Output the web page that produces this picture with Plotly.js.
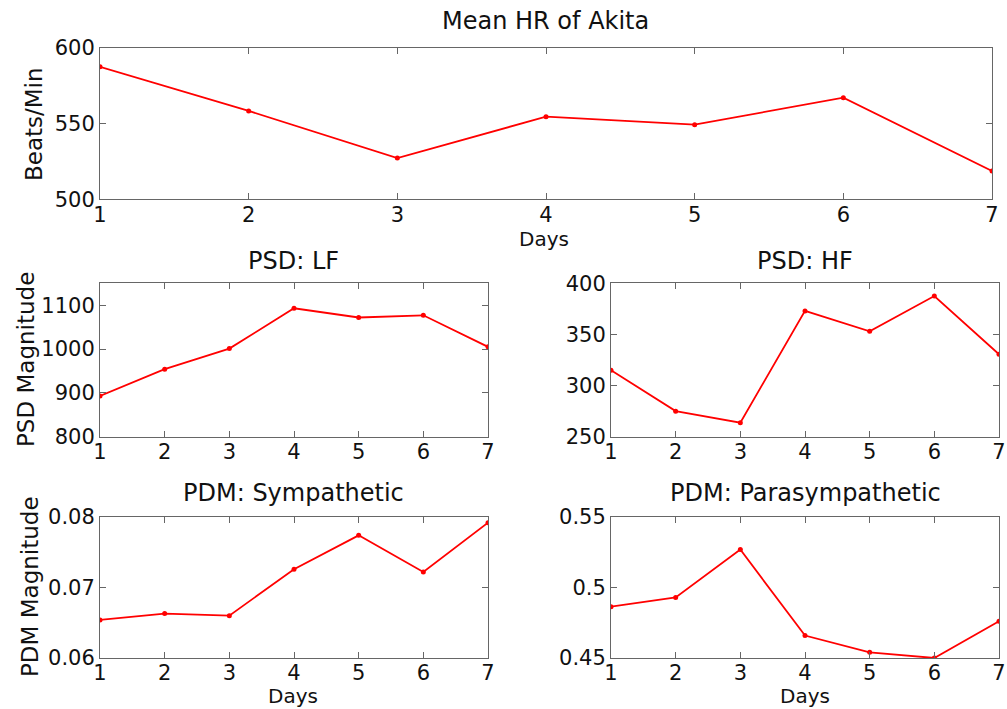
<!DOCTYPE html>
<html>
<head>
<meta charset="utf-8">
<script src="https://cdn.plot.ly/plotly-3.0.1.min.js"></script>
<style>html,body{margin:0;padding:0;background:#fff;}#chart{width:1007px;height:709px;}</style>
</head>
<body>
<div id="chart"></div>
<script>
// ---- data ----
const days = [1, 2, 3, 4, 5, 6, 7];
const meanHR = [587.6, 558.4, 527.3, 554.6, 549.3, 567.2, 518.7];
const psdLF = [893, 954, 1001, 1093, 1072, 1077, 1005];
const psdHF = [315, 275, 263.7, 373, 353, 387.6, 330.6];
const pdmSym = [0.0654, 0.0663, 0.0660, 0.0726, 0.0774, 0.0722, 0.0792];
const pdmPara = [0.4864, 0.4929, 0.5269, 0.4659, 0.454, 0.450, 0.476];

const dayTicks = ["1", "2", "3", "4", "5", "6", "7"];
const hrTickVals = [500, 550, 600];
const hrTickText = ["500", "550", "600"];
const lfTickVals = [800, 900, 1000, 1100];
const lfTickText = ["800", "900", "1000", "1100"];
const hfTickVals = [250, 300, 350, 400];
const hfTickText = ["250", "300", "350", "400"];
const symTickVals = [0.06, 0.07, 0.08];
const symTickText = ["0.06", "0.07", "0.08"];
const paraTickVals = [0.45, 0.5, 0.55];
const paraTickText = ["0.45", "0.5", "0.55"];

const titles = ["Mean HR of Akita", "PSD: LF", "PSD: HF", "PDM: Sympathetic", "PDM: Parasympathetic"];
const yTitles = ["Beats/Min", "PSD Magnitude", "PDM Magnitude"];
const xTitle = "Days";

// ---- styling ----
const W = 1007, H = 709;
const FONT = "DejaVu Sans, Arial, sans-serif";
const px = v => v / W;
const py = v => 1 - v / H;

function trace(y, xa, ya) {
  return {
    x: days, y: y, xaxis: xa, yaxis: ya, type: "scatter", mode: "lines+markers",
    line: {color: "#ff0000", width: 1.8},
    marker: {color: "#ff0000", size: 5},
    showlegend: false, hoverinfo: "x+y"
  };
}

function xax(l, r, anchor) {
  return {
    domain: [px(l), px(r)], anchor: anchor, range: [1, 7],
    tickvals: days, ticktext: dayTicks,
    ticks: "inside", ticklen: 6, tickcolor: "#666", tickwidth: 1,
    showline: true, linecolor: "#666", linewidth: 1, mirror: "ticks",
    showgrid: false, zeroline: false, ticklabelstandoff: -4,
    tickfont: {family: FONT, size: 21, color: "#111"}, fixedrange: true
  };
}
function yax(t, b, anchor, range, vals, text) {
  return {
    domain: [py(b), py(t)], anchor: anchor, range: range,
    tickvals: vals, ticktext: text,
    ticks: "inside", ticklen: 6, tickcolor: "#666", tickwidth: 1,
    showline: true, linecolor: "#666", linewidth: 1, mirror: "ticks",
    showgrid: false, zeroline: false, ticklabelstandoff: 0,
    tickfont: {family: FONT, size: 21, color: "#111"}, fixedrange: true
  };
}

const data = [
  trace(meanHR, "x", "y"),
  trace(psdLF, "x2", "y2"),
  trace(psdHF, "x3", "y3"),
  trace(pdmSym, "x4", "y4"),
  trace(pdmPara, "x5", "y5")
];

function ann(text, x, y, size, rot) {
  return {text: text, xref: "paper", yref: "paper", x: px(x), y: py(y),
    xanchor: "center", yanchor: "middle", showarrow: false, textangle: rot || 0,
    font: {family: FONT, size: size, color: "#111"}};
}

const layout = {
  width: W, height: H, margin: {l: 0, r: 0, t: 0, b: 0},
  paper_bgcolor: "#fff", plot_bgcolor: "#fff", showlegend: false,
  xaxis: xax(100, 992, "y"),
  yaxis: yax(48, 199.3, "x", [500, 600], hrTickVals, hrTickText),
  xaxis2: xax(100, 488, "y2"),
  yaxis2: yax(283.3, 436.7, "x2", [800, 1150], lfTickVals, lfTickText),
  xaxis3: xax(611, 999, "y3"),
  yaxis3: yax(283.3, 436.7, "x3", [250, 400], hfTickVals, hfTickText),
  xaxis4: xax(100, 488, "y4"),
  yaxis4: yax(517, 658, "x4", [0.06, 0.08], symTickVals, symTickText),
  xaxis5: xax(611, 999, "y5"),
  yaxis5: yax(517, 658, "x5", [0.45, 0.55], paraTickVals, paraTickText),
  annotations: [
    ann(titles[0], 545, 21, 24),
    ann(titles[1], 293, 261, 24),
    ann(titles[2], 805, 261, 24),
    ann(titles[3], 293, 493, 24),
    ann(titles[4], 805, 493, 24),
    ann(xTitle, 544, 239, 20),
    ann(xTitle, 293, 696, 20),
    ann(xTitle, 805, 696, 20),
    ann(yTitles[0], 34, 124, 23, -90),
    ann(yTitles[1], 26, 360, 23, -90),
    ann(yTitles[2], 30, 587, 23, -90)
  ]
};

Plotly.newPlot("chart", data, layout, {staticPlot: true, displayModeBar: false});
</script>
</body>
</html>
